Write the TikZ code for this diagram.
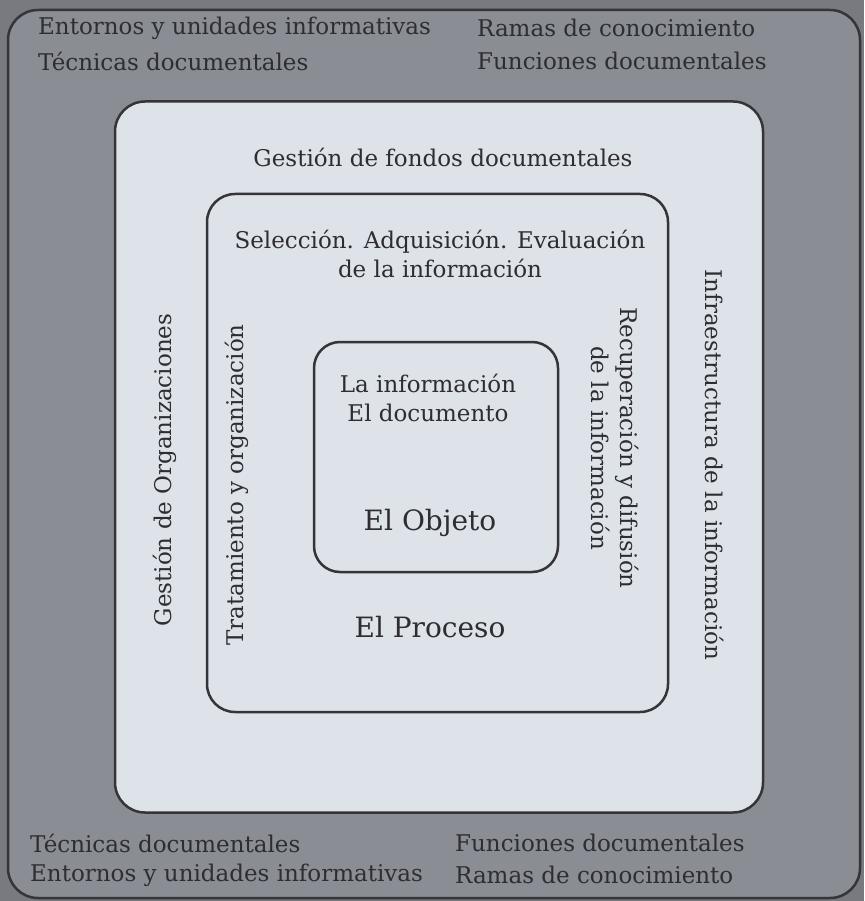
\documentclass[tikz,border=0pt]{standalone}
\usepackage{fontspec}
\setmainfont{DejaVu Serif}
\definecolor{bggray}{RGB}{138,141,148}
\definecolor{outgray}{RGB}{120,122,128}
\definecolor{lightbox}{RGB}{222,226,233}
\definecolor{linecol}{RGB}{52,52,58}
\definecolor{textcol}{RGB}{45,45,50}
\begin{document}
\begin{tikzpicture}[x=1pt,y=-1pt,
  frame/.style={draw=linecol, line width=2.5pt, rounded corners=30pt, inner sep=0pt},
  lbl/.style={font=\fontsize{23}{29.5}\selectfont, text=textcol, inner sep=0pt},
  big/.style={font=\fontsize{28}{32}\selectfont, text=textcol, inner sep=0pt}]
\fill[outgray] (0,0) rectangle (864,901);
\useasboundingbox (0,0) rectangle (864,901);
% outer frame
\node[frame, fill=bggray, minimum width=852pt, minimum height=888pt] (outer) at (434,454) {};
% light box
\node[frame, fill=lightbox, minimum width=648pt, minimum height=711pt] (field) at (439,457) {};
% process box
\node[frame, rounded corners=28pt, minimum width=461pt, minimum height=518pt] (process) at (437.5,453) {};
% object box
\node[frame, rounded corners=26pt, minimum width=244pt, minimum height=230pt] (object) at (436,457) {};

% corner texts
\node[lbl, anchor=west] (tl1) at (38,28) {Entornos y unidades informativas};
\node[lbl, anchor=west] (tl2) at (38,61) {Técnicas documentales};
\node[lbl, anchor=west] (tr1) at (477,28) {Ramas de conocimiento};
\node[lbl, anchor=west] (tr2) at (477,61) {Funciones documentales};
\node[lbl, anchor=west] (bl1) at (30,843) {Técnicas documentales};
\node[lbl, anchor=west] (bl2) at (30,875) {Entornos y unidades informativas};
\node[lbl, anchor=west] (br1) at (455,843) {Funciones documentales};
\node[lbl, anchor=west] (br2) at (455,875) {Ramas de conocimiento};

% field box texts
\node[lbl] (fondos) at (443,157) {Gestión de fondos documentales};
\node[lbl, rotate=90] (organiz) at (165,470) {Gestión de Organizaciones};
\node[lbl, rotate=-90] (infra) at (715,465) {Infraestructura de la información};

% process box texts
\node[lbl, align=center] (selec) at (440,254) {Selección. Adquisición. Evaluación\\de la información};
\node[lbl, rotate=90] (trat) at (237,485) {Tratamiento y organización};
\node[lbl, rotate=-90, align=center] (recup) at (615,448) {Recuperación y difusión\\de la información};
\node[big] (proceso) at (430,627) {El Proceso};

% object box texts
\node[lbl, align=center] (info) at (428,398) {La información\\El documento};
\node[big] (objeto) at (430,523) {El Objeto};
\end{tikzpicture}
\end{document}
